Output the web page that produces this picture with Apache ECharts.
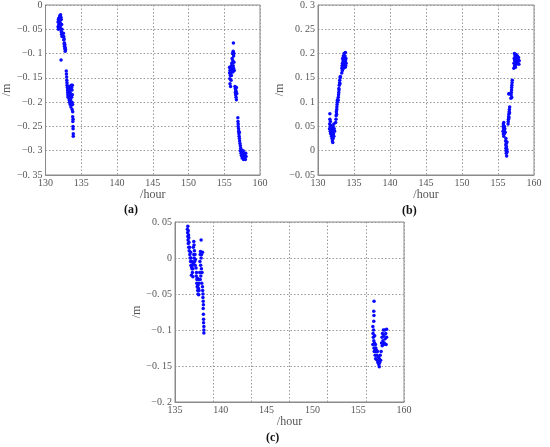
<!DOCTYPE html>
<html>
<head>
<meta charset="utf-8">
<script src="https://cdn.jsdelivr.net/npm/echarts@6/dist/echarts.min.js"></script>
<style>
html,body{margin:0;padding:0;background:#fff;}
#chart{width:550px;height:447px;}
</style>
</head>
<body>
<div id="chart"></div>
<script>
// ---------- data ----------
const panelLabels = ['(a)', '(b)', '(c)'];
const xName = '/hour';
const yName = '/m';

const xRangeA = [130, 160, 5];
const yRangeA = [-0.35, 0, 0.05];
const xRangeB = [130, 160, 5];
const yRangeB = [-0.05, 0.3, 0.05];
const xRangeC = [135, 160, 5];
const yRangeC = [-0.2, 0.05, 0.05];

const aLeft = [
[131.75,-0.035],[131.75,-0.045],[131.8,-0.03],[131.8,-0.05],[131.85,-0.04],[131.85,-0.028],[131.9,-0.033],[131.9,-0.048],[131.95,-0.025],[131.95,-0.042],[132.0,-0.022],[132.0,-0.035],[132.05,-0.03],[132.05,-0.045],[132.1,-0.02],[132.1,-0.038],[132.15,-0.025],[132.15,-0.05],[132.2,-0.03],[132.2,-0.055],[132.25,-0.04],[132.25,-0.06],[132.3,-0.05],[132.3,-0.065],[132.35,-0.058],
[132.17,-0.113],
[132.5,-0.058],[132.55,-0.065],[132.55,-0.072],[132.6,-0.07],[132.6,-0.08],[132.65,-0.078],[132.65,-0.085],[132.7,-0.082],[132.7,-0.09],[132.75,-0.088],[132.8,-0.092],[132.75,-0.095],
[132.9,-0.136],[132.92,-0.142],[132.95,-0.148],[132.97,-0.155],[133.0,-0.16],[133.02,-0.165],[133.05,-0.17],[133.08,-0.175],[133.1,-0.18],[133.12,-0.185],[133.15,-0.19],[133.2,-0.178],[133.22,-0.188],
[133.25,-0.17],[133.3,-0.182],[133.3,-0.195],[133.35,-0.175],[133.35,-0.2],[133.4,-0.168],[133.4,-0.19],[133.45,-0.18],[133.45,-0.205],[133.5,-0.172],[133.5,-0.195],[133.55,-0.185],[133.55,-0.21],[133.6,-0.165],[133.6,-0.2],
[133.65,-0.17],[133.65,-0.19],[133.7,-0.175],[133.7,-0.2],[133.72,-0.215],[133.75,-0.165],[133.75,-0.185],[133.78,-0.205],[133.8,-0.22],[133.8,-0.23],[133.82,-0.24],[133.85,-0.25],[133.85,-0.235],[133.85,-0.255],[133.88,-0.265],[133.88,-0.27]
];
const aRight = [
[155.75,-0.128],[155.75,-0.14],[155.78,-0.152],[155.8,-0.135],[155.8,-0.162],[155.85,-0.13],[155.85,-0.145],[155.88,-0.168],[155.9,-0.14],[155.95,-0.132],[155.95,-0.155],[156.0,-0.125],[156.0,-0.145],
[156.05,-0.135],[156.05,-0.12],[156.1,-0.128],[156.1,-0.11],[156.15,-0.132],[156.15,-0.1],[156.2,-0.115],[156.2,-0.138],[156.25,-0.095],[156.25,-0.125],[156.28,-0.078],[156.3,-0.105],[156.3,-0.13],[156.35,-0.118],[156.35,-0.1],[156.4,-0.135],
[156.5,-0.168],[156.55,-0.172],[156.55,-0.18],[156.6,-0.175],[156.6,-0.185],[156.65,-0.178],[156.65,-0.19],[156.7,-0.17],[156.7,-0.195],[156.75,-0.182],
[156.9,-0.232],[156.92,-0.24],[156.95,-0.245],[156.95,-0.25],[157.0,-0.255],[157.02,-0.26],[157.05,-0.265],[157.08,-0.27],[157.1,-0.262],[157.12,-0.275],[157.15,-0.28],
[157.2,-0.285],[157.25,-0.29],[157.25,-0.3],[157.3,-0.295],[157.35,-0.305],[157.4,-0.31],[157.45,-0.3],[157.5,-0.315],[157.55,-0.305],[157.6,-0.312],[157.65,-0.3],[157.7,-0.318],[157.75,-0.308],[157.8,-0.315],[157.85,-0.305],[157.9,-0.31],[157.95,-0.318],[158.0,-0.305],[158.05,-0.312]
];
const bLeft = [
[131.6,0.045],[131.62,0.055],[131.65,0.065],[131.65,0.076],[131.7,0.04],[131.7,0.05],[131.72,0.06],[131.75,0.035],[131.78,0.045],[131.8,0.038],[131.82,0.052],[131.85,0.04],[131.88,0.03],[131.9,0.045],[131.92,0.035],[131.95,0.025],[131.98,0.04],[132.0,0.02],[132.0,0.03],[132.05,0.017],[132.05,0.045],[132.1,0.025],[132.1,0.05],[132.15,0.035],[132.2,0.03],[132.2,0.055],[132.25,0.045],[132.3,0.04],
[132.45,0.058],[132.5,0.065],[132.52,0.072],[132.55,0.08],[132.58,0.075],[132.6,0.085],[132.62,0.09],[132.65,0.095],[132.68,0.1],[132.7,0.104],[132.72,0.105],[132.8,0.104],
[132.82,0.11],[132.85,0.115],[132.88,0.12],[132.9,0.128],[132.92,0.125],[132.95,0.135],[133.0,0.14],[133.02,0.145],[133.05,0.138],[133.08,0.15],[133.1,0.153],
[133.3,0.16],[133.32,0.17],[133.35,0.175],[133.38,0.165],[133.4,0.18],[133.42,0.19],[133.45,0.172],[133.48,0.185],[133.5,0.178],[133.52,0.195],[133.55,0.17],[133.58,0.188],[133.6,0.18],[133.62,0.2],[133.65,0.175],[133.7,0.19],[133.72,0.183],[133.75,0.195],[133.78,0.172],[133.8,0.202],[133.82,0.185],[133.85,0.175],[133.88,0.19],[133.9,0.18]
];
const bRight = [
[155.7,0.04],[155.72,0.05],[155.75,0.055],[155.75,0.035],[155.78,0.045],[155.8,0.03],[155.8,0.058],[155.85,0.042],[155.88,0.035],[155.9,0.05],[155.95,0.045],[156.0,0.038],
[156.05,0.02],[156.08,0.012],[156.1,0.025],[156.1,0.005],[156.12,0.0],[156.15,0.015],[156.15,-0.005],[156.18,0.008],[156.2,-0.011],[156.22,0.003],[156.25,0.018],[156.28,-0.002],
[156.4,0.055],[156.42,0.06],[156.45,0.065],[156.48,0.07],[156.5,0.075],[156.52,0.068],[156.55,0.08],[156.58,0.085],[156.6,0.078],[156.62,0.09],[156.55,0.118],[156.5,0.117],
[156.8,0.108],[156.82,0.115],[156.85,0.12],[156.88,0.125],[156.9,0.13],[156.92,0.135],[156.95,0.14],[156.98,0.145],[156.9,0.11],
[157.2,0.17],[157.22,0.18],[157.25,0.19],[157.28,0.2],[157.3,0.175],[157.32,0.185],[157.35,0.195],[157.4,0.18],[157.42,0.172],[157.45,0.19],[157.5,0.185],[157.52,0.198],[157.55,0.178],[157.6,0.19],[157.65,0.183],[157.7,0.195],[157.75,0.18],[157.8,0.188],[157.85,0.192],[157.9,0.178],[157.95,0.185]
];
const cLeft = [
[136.35,0.04],[136.38,0.035],[136.4,0.044],[136.4,0.03],[136.42,0.025],[136.45,0.038],[136.45,0.02],[136.48,0.032],[136.5,0.028],[136.5,0.015],[136.52,0.022],
[136.55,0.01],[136.6,0.015],[136.62,0.005],[136.65,0.0],[136.7,-0.005],[136.7,0.008],[136.75,-0.01],[136.75,0.0],[136.8,-0.012],[136.8,-0.024],[136.85,-0.005],[136.85,-0.015],[136.9,-0.01],[136.9,-0.02],[136.95,-0.015],[137.0,-0.008],[136.95,-0.026],
[137.0,0.015],[137.05,0.023],[137.05,0.005],[137.08,0.018],[137.1,0.0],[137.12,0.01],[137.15,-0.005],[137.18,0.005],[137.2,-0.01],[137.22,-0.002],
[137.3,-0.014],[137.32,-0.025],[137.35,-0.02],[137.38,-0.035],[137.4,-0.03],[137.42,-0.04],[137.45,-0.028],[137.48,-0.045],[137.5,-0.038],[137.52,-0.05],[137.55,-0.042],[137.58,-0.051],[137.6,-0.035],[137.62,-0.045],[137.65,-0.03],
[137.7,-0.02],[137.72,-0.005],[137.75,0.005],[137.75,-0.03],[137.78,0.009],[137.8,-0.01],[137.82,-0.025],[137.85,0.025],[137.85,0.0],[137.88,-0.015],[137.9,0.005],[137.92,-0.035],[137.95,-0.02],[138.0,0.008],[138.0,-0.04],
[138.02,-0.045],[138.05,-0.055],[138.05,-0.05],[138.08,-0.06],[138.08,-0.07],[138.1,-0.065],[138.1,-0.078],[138.12,-0.085],[138.12,-0.09],[138.15,-0.095],[138.15,-0.1],[138.15,-0.104]
];
const cRight = [
[156.73,-0.06],[156.7,-0.074],[156.72,-0.08],[156.7,-0.088],[156.6,-0.095],[156.62,-0.105],[156.65,-0.11],[156.6,-0.12],[156.68,-0.1],[156.7,-0.115],[156.72,-0.125],[156.75,-0.13],[156.78,-0.118],[156.8,-0.108],[156.82,-0.128],[156.85,-0.135],[156.88,-0.12],[156.9,-0.14],[156.92,-0.125],[156.95,-0.13],
[157.0,-0.128],[157.05,-0.135],[157.08,-0.142],[157.1,-0.13],[157.15,-0.145],[157.2,-0.138],[157.25,-0.148],[157.3,-0.151],[157.3,-0.14],[157.35,-0.145],[157.4,-0.135],[157.45,-0.142],[157.5,-0.13],
[157.55,-0.118],[157.6,-0.11],[157.62,-0.122],[157.65,-0.105],[157.7,-0.115],[157.75,-0.1],[157.78,-0.12],[157.8,-0.108],[157.85,-0.118],[157.9,-0.1],[157.95,-0.112],[158.0,-0.105],[158.05,-0.12],[158.1,-0.11],[158.1,-0.099]
];
// gridline divisions drawn in panel (c) (the original's grid does not follow its labels)
const cGridDivisions = [0, 6, 1];

// ---------- styling ----------
const FONT = '"Liberation Serif", "DejaVu Serif", serif';
const GREY = '#8a8a8a';
const LABEL = '#555';
const DOT = '#0a0aff';

function fmt(v) {
  let s = String(+v.toFixed(2));
  s = s.replace('.', '. ').replace('-', '\u2212');
  return s;
}
const splitStyle = { show: true, lineStyle: { color: '#999', width: 1, type: [1.5, 2] } };

function xAxisDef(gi, r, gap, splitShow) {
  return {
    type: 'value', gridIndex: gi, min: r[0], max: r[1], interval: r[2],
    name: xName, nameLocation: 'middle', nameGap: gap,
    nameTextStyle: { fontFamily: FONT, fontSize: 12, color: LABEL },
    axisLine: { show: true, onZero: false, lineStyle: { color: GREY } },
    axisTick: { show: false },
    axisLabel: { fontFamily: FONT, fontSize: 10, color: LABEL, margin: 3, showMinLabel: true, showMaxLabel: true, formatter: fmt },
    splitLine: splitShow ? splitStyle : { show: false }
  };
}
function yAxisDef(gi, r, gap) {
  return {
    type: 'value', gridIndex: gi, min: r[0], max: r[1], interval: r[2],
    name: yName, nameLocation: 'middle', nameGap: gap,
    nameTextStyle: { fontFamily: FONT, fontSize: 12, color: LABEL },
    axisLine: { show: true, onZero: false, lineStyle: { color: GREY } },
    axisTick: { show: false },
    axisLabel: { fontFamily: FONT, fontSize: 10, color: LABEL, margin: 3, showMinLabel: true, showMaxLabel: true, formatter: fmt },
    splitLine: splitStyle
  };
}
function sc(xi, yi, data) {
  return { type: 'scatter', xAxisIndex: xi, yAxisIndex: yi, data: data, symbol: 'circle', symbolSize: 3.5,
    itemStyle: { color: DOT, opacity: 1 }, silent: true, animation: false };
}

const chart = echarts.init(document.getElementById('chart'), null, { renderer: 'canvas' });
chart.setOption({
  backgroundColor: '#fff',
  animation: false,
  grid: [
    { left: 43, top: 3, width: 217, height: 172, show: true, borderColor: GREY, borderWidth: 1, backgroundColor: '#fff' },
    { left: 318, top: 4, width: 216, height: 171, show: true, borderColor: GREY, borderWidth: 1, backgroundColor: '#fff' },
    { left: 175, top: 222, width: 229, height: 180, show: true, borderColor: GREY, borderWidth: 1, backgroundColor: '#fff' }
  ],
  xAxis: [
    xAxisDef(0, xRangeA, 13, true),
    xAxisDef(1, xRangeB, 13, true),
    xAxisDef(2, xRangeC, 14, false),
    { type: 'value', gridIndex: 2, min: cGridDivisions[0], max: cGridDivisions[1], interval: cGridDivisions[2],
      position: 'bottom', axisLine: { show: false, onZero: false }, axisTick: { show: false }, axisLabel: { show: false },
      splitLine: splitStyle }
  ],
  yAxis: [
    yAxisDef(0, yRangeA, 27),
    yAxisDef(1, yRangeB, 27),
    yAxisDef(2, yRangeC, 31)
  ],
  graphic: [
    { type: 'text', left: 124, top: 204, style: { text: panelLabels[0], font: 'bold 12px ' + FONT, fill: '#111' } },
    { type: 'text', left: 402, top: 205, style: { text: panelLabels[1], font: 'bold 12px ' + FONT, fill: '#111' } },
    { type: 'text', left: 266, top: 432, style: { text: panelLabels[2], font: 'bold 12px ' + FONT, fill: '#111' } }
  ],
  series: [
    sc(0, 0, aLeft), sc(0, 0, aRight),
    sc(1, 1, bLeft), sc(1, 1, bRight),
    sc(2, 2, cLeft), sc(2, 2, cRight)
  ]
});
</script>
</body>
</html>
